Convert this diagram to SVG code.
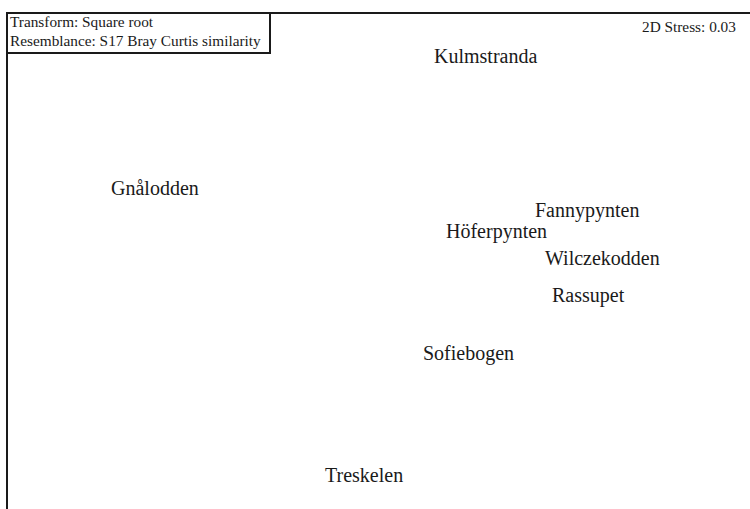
<svg xmlns="http://www.w3.org/2000/svg" width="750" height="509" viewBox="0 0 750 509">
<style>
.frame{fill:none;stroke:#1a1a1a;stroke-width:2}
.small{font-family:"Liberation Serif","Times New Roman",serif;font-size:15.3px;fill:#1a1a1a}
.lbl{font-family:"Liberation Serif","Times New Roman",serif;font-size:20px;fill:#1a1a1a}
</style>
<rect width="750" height="509" fill="#ffffff"/>
<g id="plot-frame">
<rect class="frame" x="7" y="13" width="760" height="510"/>
</g>
<g id="legend-box">
<rect class="frame" x="7" y="13" width="263" height="40"/>
<text class="small" x="10" y="26.5">Transform: Square root</text>
<text class="small" x="10" y="45.5">Resemblance: S17 Bray Curtis similarity</text>
</g>
<g id="stress">
<text class="small" x="642" y="32">2D Stress: 0.03</text>
</g>
<g id="connectors"></g>
<g id="Kulmstranda"><text class="lbl" x="434" y="63">Kulmstranda</text></g>
<g id="Gnalodden"><text class="lbl" x="111" y="195">Gnålodden</text></g>
<g id="Fannypynten"><text class="lbl" x="535" y="217">Fannypynten</text></g>
<g id="Hoferpynten"><text class="lbl" x="446" y="238">Höferpynten</text></g>
<g id="Wilczekodden"><text class="lbl" x="545" y="265">Wilczekodden</text></g>
<g id="Rassupet"><text class="lbl" x="552" y="302">Rassupet</text></g>
<g id="Sofiebogen"><text class="lbl" x="423" y="360">Sofiebogen</text></g>
<g id="Treskelen"><text class="lbl" x="325" y="482">Treskelen</text></g>
</svg>
